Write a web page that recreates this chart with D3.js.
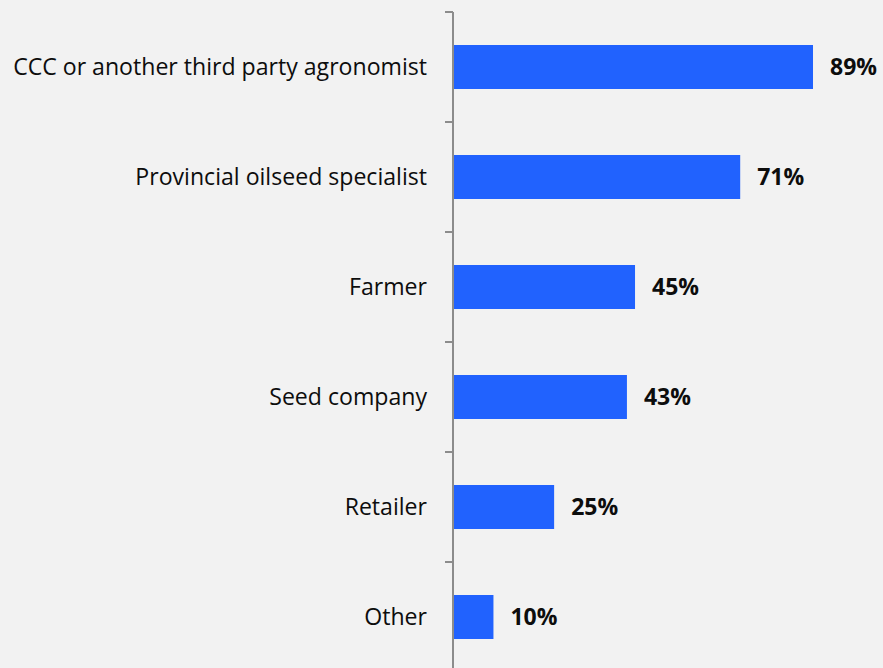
<!DOCTYPE html>
<html>
<head>
<meta charset="utf-8">
<script src="https://cdn.jsdelivr.net/npm/d3@7"></script>
<style>
  body { margin: 0; background: #f2f2f2; }
  svg { display: block; }
</style>
</head>
<body>
<svg></svg>
<script>
var WIDTH = 883;
var HEIGHT = 668;

var categories = ['CCC or another third party agronomist', 'Provincial oilseed specialist', 'Farmer', 'Seed company', 'Retailer', 'Other'];
var values = [89, 71, 45, 43, 25, 10];
var valueLabels = ['89%', '71%', '45%', '43%', '25%', '10%'];

var svg = d3.select('svg')
  .attr('width', WIDTH)
  .attr('height', HEIGHT);

svg.append('rect').attr('width', WIDTH).attr('height', HEIGHT).attr('fill', '#f2f2f2');

var x0 = 453;
var xScale = d3.scaleLinear().domain([0, 100]).range([x0, x0 + 404.5]);
var yScale = d3.scaleBand().domain(categories).range([12, 672]).paddingInner(0.6).paddingOuter(0.3);

// axis
var axis = svg.append('g');
axis.append('line')
  .attr('x1', x0).attr('x2', x0)
  .attr('y1', 12).attr('y2', HEIGHT)
  .attr('stroke', '#8c8c8c').attr('stroke-width', 2);

var step = yScale.step();
axis.selectAll('.tick')
  .data(d3.range(categories.length))
  .enter().append('line')
  .attr('x1', x0 - 8).attr('x2', x0)
  .attr('y1', function(d) { return yScale(categories[d]) - yScale.paddingOuter() * step; })
  .attr('y2', function(d) { return yScale(categories[d]) - yScale.paddingOuter() * step; })
  .attr('stroke', '#8c8c8c').attr('stroke-width', 2);

svg.selectAll('.bar')
  .data(values)
  .enter().append('rect')
  .attr('x', x0 + 1)
  .attr('y', function(d, i) { return yScale(categories[i]); })
  .attr('width', function(d) { return xScale(d) - x0 - 1; })
  .attr('height', yScale.bandwidth())
  .attr('fill', '#2162fe');

svg.selectAll('.cat')
  .data(categories)
  .enter().append('text')
  .attr('x', 427)
  .attr('y', function(d) { return yScale(d) + yScale.bandwidth() / 2; })
  .attr('dy', '0.35em')
  .attr('text-anchor', 'end')
  .attr('font-family', 'Open Sans, sans-serif')
  .attr('font-size', 23.1)
  .attr('fill', '#0d0d0d')
  .text(function(d) { return d; });

svg.selectAll('.val')
  .data(values)
  .enter().append('text')
  .attr('x', function(d) { return xScale(d) + 17; })
  .attr('y', function(d, i) { return yScale(categories[i]) + yScale.bandwidth() / 2; })
  .attr('dy', '0.35em')
  .attr('font-family', 'Open Sans, sans-serif')
  .attr('font-weight', 'bold')
  .attr('font-size', 23)
  .attr('fill', '#0d0d0d')
  .text(function(d, i) { return valueLabels[i]; });
</script>
</body>
</html>
